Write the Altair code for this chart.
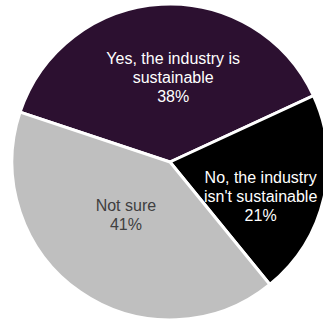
import altair as alt
import pandas as pd
import math

categories = ["Yes, the industry is sustainable", "No, the industry isn't sustainable", "Not sure"]
label_lines = [["Yes, the industry is", "sustainable"], ["No, the industry", "isn't sustainable"], ["Not sure"]]
values = [38, 21, 41]
colors = ["#2c1030", "#000000", "#bfbfbf"]
text_colors = ["#ffffff", "#ffffff", "#404040"]

df = pd.DataFrame({
    "cat": categories,
    "value": values,
    "order": list(range(len(categories))),
    "label": [lines + [f"{v}%"] for lines, v in zip(label_lines, values)],
})

start = math.radians(288.4)
theta_scale = alt.Scale(domain=[0, 100], range=[start, start + 2 * math.pi])
cx, cy = 170, 162

base = alt.Chart(df)

arcs = base.mark_arc(radius=158, stroke="white", strokeWidth=3).encode(
    x=alt.value(cx), y=alt.value(cy),
    theta=alt.Theta("value:Q", stack=True, scale=theta_scale),
    color=alt.Color("cat:N", scale=alt.Scale(domain=categories, range=colors), legend=None),
    order=alt.Order("order:Q"),
)

stacked = base.transform_window(
    cum="sum(value)", sort=[alt.SortField("order")], frame=[None, 0]
).transform_calculate(mid="datum.cum - datum.value / 2")

label_place = [(104, 9, 1), (93, 0, -5), (53, -14, 0)]
layers = [arcs]
for cat, tc, (r, dx, dy) in zip(categories, text_colors, label_place):
    layers.append(
        stacked.transform_filter(alt.datum.cat == cat).mark_text(
            radius=r, dx=dx, dy=dy, font="Liberation Sans", fontSize=16,
            lineHeight=19, color=tc, align="center", baseline="middle",
        ).encode(
            x=alt.value(cx), y=alt.value(cy),
            theta=alt.Theta("mid:Q", stack=False, scale=theta_scale),
            text="label",
        )
    )

chart = alt.layer(*layers).properties(
    width=323, height=322, padding=0, autosize=alt.AutoSizeParams(type="none")
).configure_view(stroke=None)

chart.save("out.html", embed_options={"renderer": "svg", "actions": False})
